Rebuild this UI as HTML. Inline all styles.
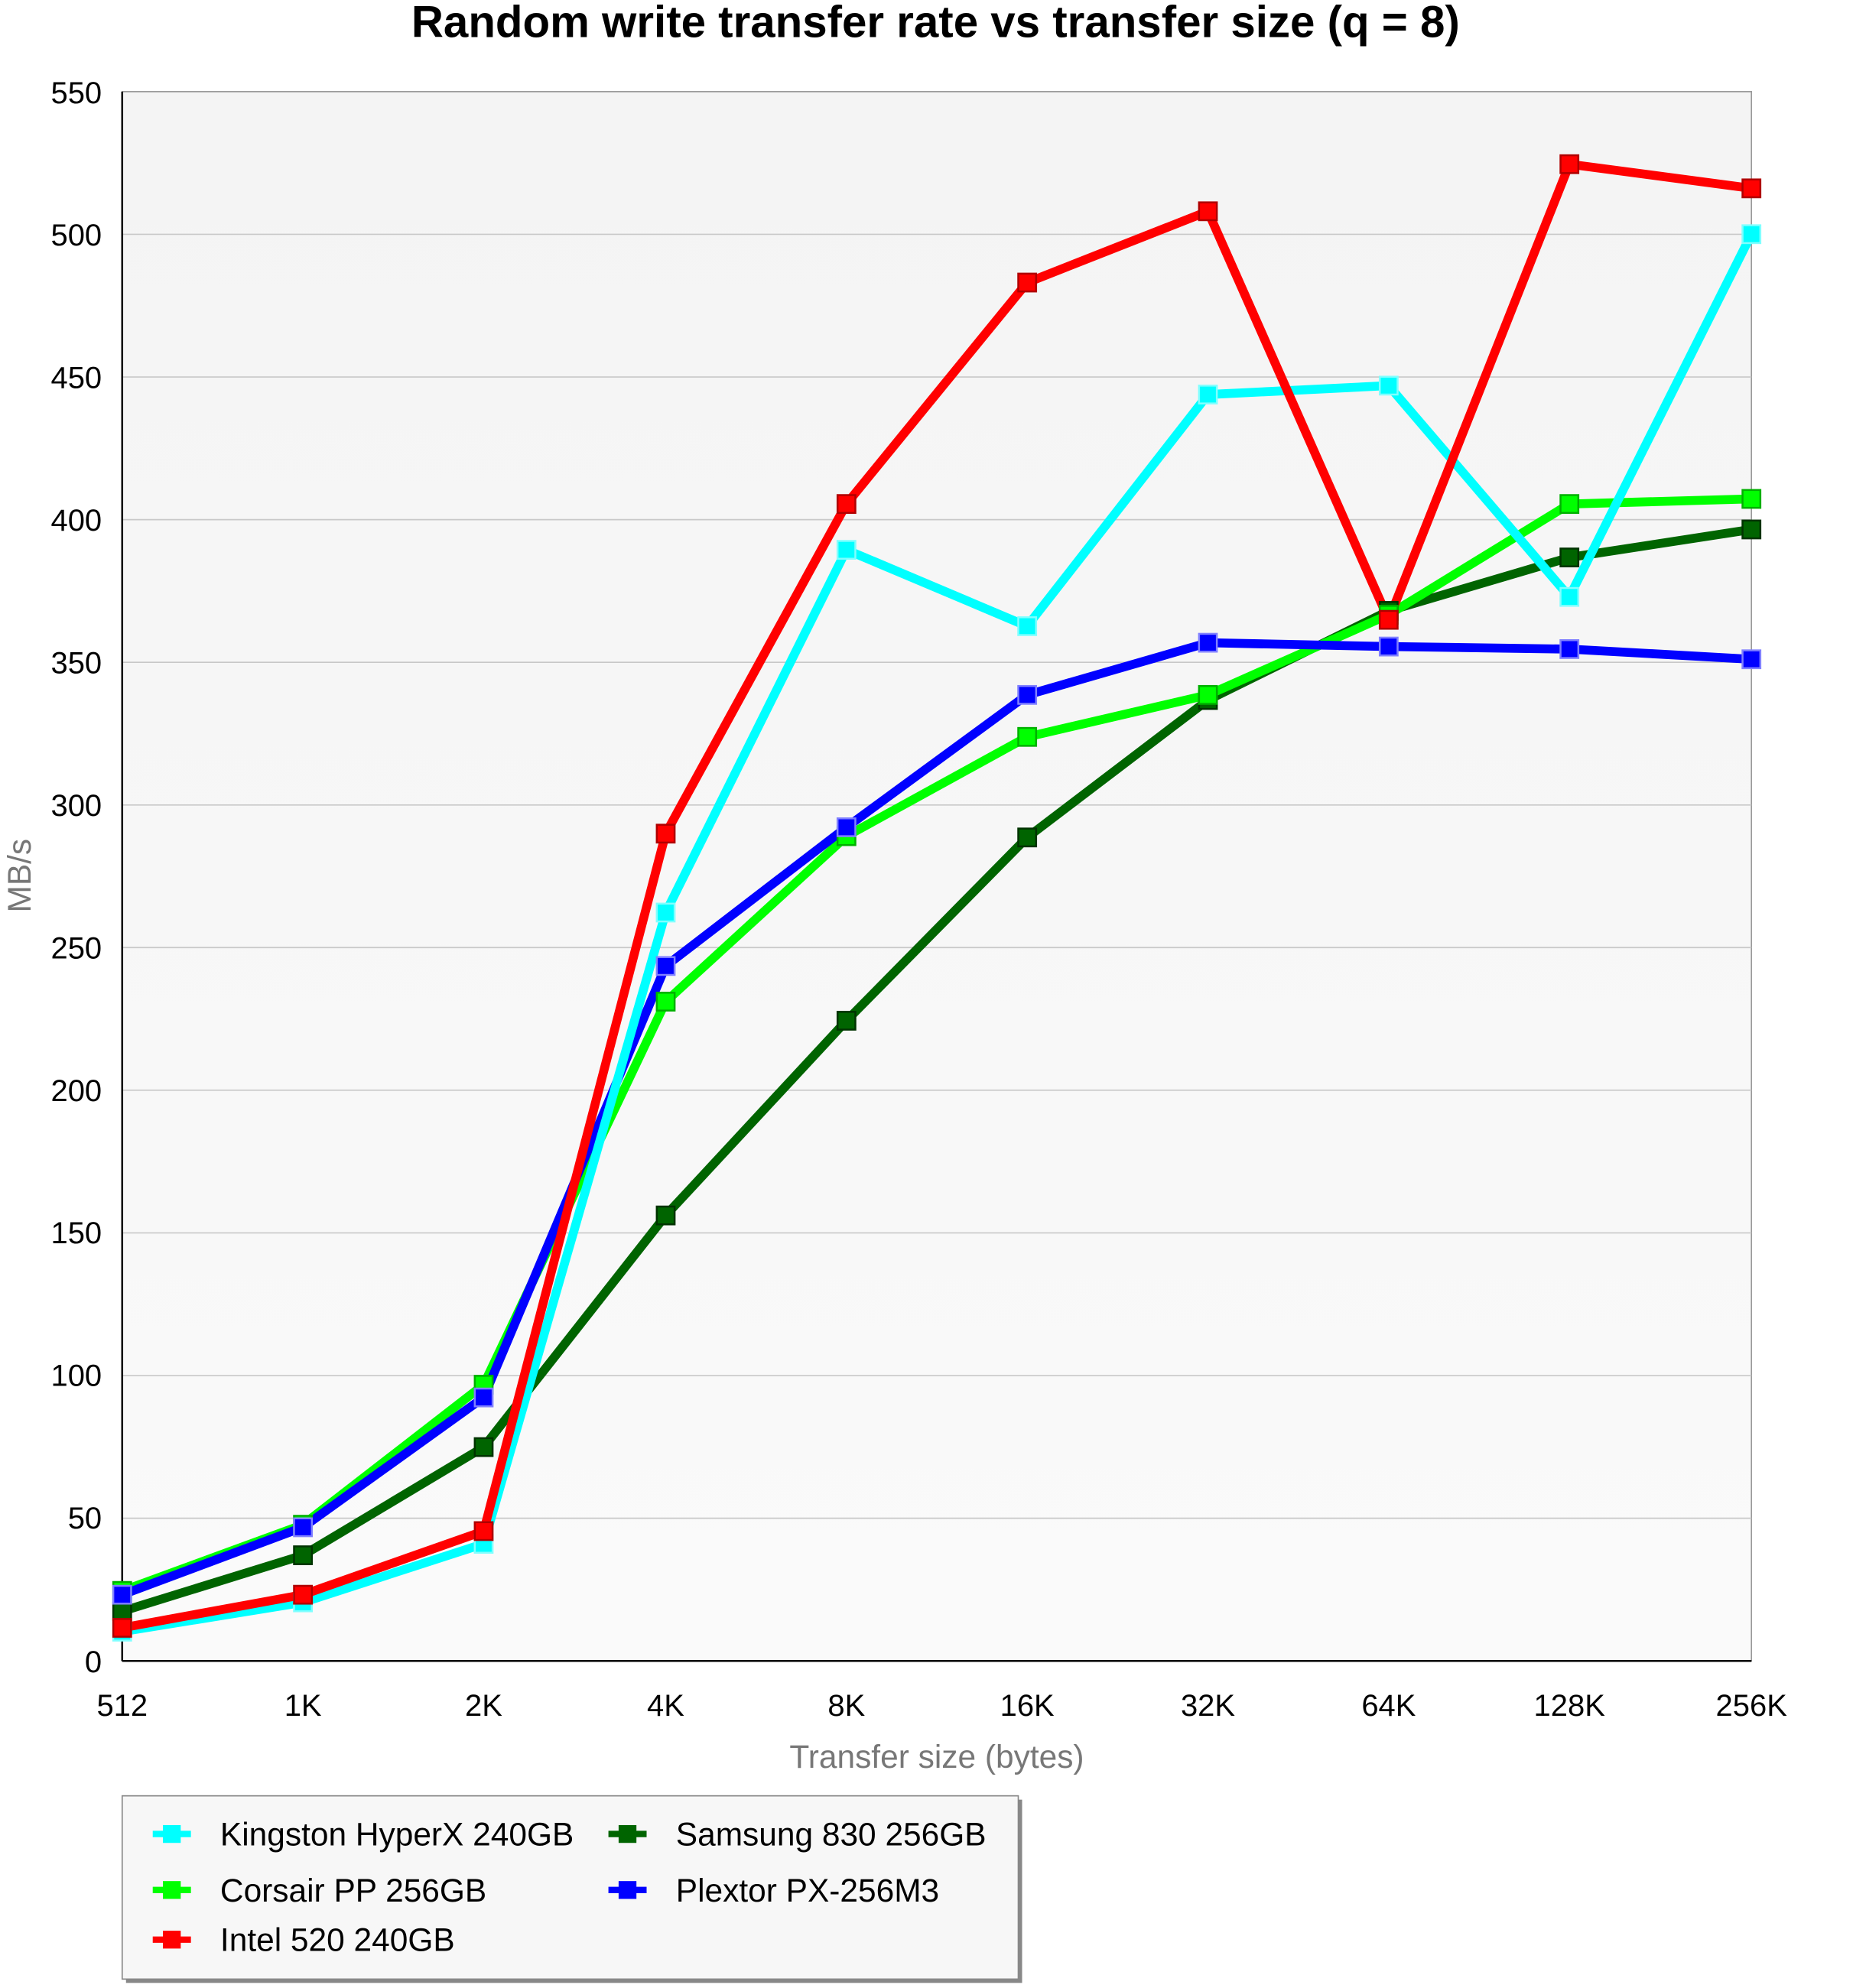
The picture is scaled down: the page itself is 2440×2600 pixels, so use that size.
<!DOCTYPE html>
<html><head><meta charset="utf-8"><style>html,body{margin:0;padding:0;background:#fff}svg{display:block}</style></head>
<body>
<svg width="2440" height="2600" viewBox="0 0 1466 1562" preserveAspectRatio="none" xmlns="http://www.w3.org/2000/svg" font-family="'Liberation Sans', sans-serif">
<defs>
<linearGradient id="bg" x1="0" y1="0" x2="0" y2="1"><stop offset="0" stop-color="#f4f4f4"/><stop offset="1" stop-color="#fafafa"/></linearGradient>
</defs>
<rect width="1466" height="1562" fill="#fff"/>
<text x="735" y="29" text-anchor="middle" font-size="35" font-weight="bold" fill="#000">Random write transfer rate vs transfer size (q = 8)</text>
<rect x="96" y="72" width="1280" height="1233" fill="url(#bg)" stroke="#999" stroke-width="1"/>
<g stroke="#c8c8c8" stroke-width="1">
<line x1="96" x2="1376" y1="184.1" y2="184.1"/><line x1="96" x2="1376" y1="296.2" y2="296.2"/><line x1="96" x2="1376" y1="408.3" y2="408.3"/><line x1="96" x2="1376" y1="520.4" y2="520.4"/><line x1="96" x2="1376" y1="632.5" y2="632.5"/><line x1="96" x2="1376" y1="744.5" y2="744.5"/><line x1="96" x2="1376" y1="856.6" y2="856.6"/><line x1="96" x2="1376" y1="968.7" y2="968.7"/><line x1="96" x2="1376" y1="1080.8" y2="1080.8"/><line x1="96" x2="1376" y1="1192.9" y2="1192.9"/>
</g>
<line x1="96" y1="72" x2="96" y2="1305" stroke="#000" stroke-width="1.5"/>
<line x1="96" y1="1305" x2="1376" y2="1305" stroke="#000" stroke-width="1.5"/>
<g font-size="24" fill="#000" text-anchor="end">
<text x="80" y="81">550</text><text x="80" y="193">500</text><text x="80" y="305">450</text><text x="80" y="417">400</text><text x="80" y="529">350</text><text x="80" y="641">300</text><text x="80" y="753">250</text><text x="80" y="865">200</text><text x="80" y="977">150</text><text x="80" y="1089">100</text><text x="80" y="1201">50</text><text x="80" y="1314">0</text>
</g>
<g font-size="24" fill="#000" text-anchor="middle">
<text x="96" y="1348">512</text><text x="238" y="1348">1K</text><text x="380" y="1348">2K</text><text x="523" y="1348">4K</text><text x="665" y="1348">8K</text><text x="807" y="1348">16K</text><text x="949" y="1348">32K</text><text x="1091" y="1348">64K</text><text x="1233" y="1348">128K</text><text x="1376" y="1348">256K</text>
</g>
<text x="736" y="1389" text-anchor="middle" font-size="25.5" fill="#777">Transfer size (bytes)</text>
<text transform="translate(24,688) rotate(-90)" text-anchor="middle" font-size="25.5" fill="#777">MB/s</text>
<g fill="none" stroke-width="7" stroke-linejoin="round">
<polyline stroke="#006400" points="96,1266 238,1222 380,1137 523,955 665,802 807,658 949,550 1091,480 1233,438 1376,416"/>
<polyline stroke="#00ff00" points="96,1250 238,1198 380,1088 523,787 665,657 807,579 949,546 1091,483 1233,396 1376,392"/>
<polyline stroke="#0000ff" points="96,1253 238,1200 380,1098 523,759 665,650 807,546 949,505 1091,508 1233,510 1376,518"/>
<polyline stroke="#00ffff" points="96,1282 238,1259 380,1213 523,717 665,432 807,492 949,310 1091,303 1233,469 1376,184"/>
<polyline stroke="#ff0000" points="96,1279 238,1253 380,1203 523,655 665,396 807,222 949,166 1091,487 1233,129 1376,148"/>
</g>
<g stroke-width="1.5">
<g fill="#006400" stroke="#003300"><rect x="89" y="1259" width="14" height="14"/><rect x="231" y="1215" width="14" height="14"/><rect x="373" y="1130" width="14" height="14"/><rect x="516" y="948" width="14" height="14"/><rect x="658" y="795" width="14" height="14"/><rect x="800" y="651" width="14" height="14"/><rect x="942" y="543" width="14" height="14"/><rect x="1084" y="473" width="14" height="14"/><rect x="1226" y="431" width="14" height="14"/><rect x="1369" y="409" width="14" height="14"/></g>
<g fill="#00ff00" stroke="#00b000"><rect x="89" y="1243" width="14" height="14"/><rect x="231" y="1191" width="14" height="14"/><rect x="373" y="1081" width="14" height="14"/><rect x="516" y="780" width="14" height="14"/><rect x="658" y="650" width="14" height="14"/><rect x="800" y="572" width="14" height="14"/><rect x="942" y="539" width="14" height="14"/><rect x="1084" y="476" width="14" height="14"/><rect x="1226" y="389" width="14" height="14"/><rect x="1369" y="385" width="14" height="14"/></g>
<g fill="#0000ff" stroke="#8080ff"><rect x="89" y="1246" width="14" height="14"/><rect x="231" y="1193" width="14" height="14"/><rect x="373" y="1091" width="14" height="14"/><rect x="516" y="752" width="14" height="14"/><rect x="658" y="643" width="14" height="14"/><rect x="800" y="539" width="14" height="14"/><rect x="942" y="498" width="14" height="14"/><rect x="1084" y="501" width="14" height="14"/><rect x="1226" y="503" width="14" height="14"/><rect x="1369" y="511" width="14" height="14"/></g>
<g fill="#00ffff" stroke="#80ffff"><rect x="89" y="1275" width="14" height="14"/><rect x="231" y="1252" width="14" height="14"/><rect x="373" y="1206" width="14" height="14"/><rect x="516" y="710" width="14" height="14"/><rect x="658" y="425" width="14" height="14"/><rect x="800" y="485" width="14" height="14"/><rect x="942" y="303" width="14" height="14"/><rect x="1084" y="296" width="14" height="14"/><rect x="1226" y="462" width="14" height="14"/><rect x="1369" y="177" width="14" height="14"/></g>
<g fill="#ff0000" stroke="#b00000"><rect x="89" y="1272" width="14" height="14"/><rect x="231" y="1246" width="14" height="14"/><rect x="373" y="1196" width="14" height="14"/><rect x="516" y="648" width="14" height="14"/><rect x="658" y="389" width="14" height="14"/><rect x="800" y="215" width="14" height="14"/><rect x="942" y="159" width="14" height="14"/><rect x="1084" y="480" width="14" height="14"/><rect x="1226" y="122" width="14" height="14"/><rect x="1369" y="141" width="14" height="14"/></g>
</g>
<rect x="99" y="1414" width="704" height="144" fill="#888"/>
<rect x="96" y="1411" width="704" height="144" fill="#f7f7f7" stroke="#888" stroke-width="1"/>
<g stroke-width="5">
<line x1="120" y1="1441" x2="150" y2="1441" stroke="#00ffff"/><rect x="128" y="1434" width="14" height="14" fill="#00ffff" stroke="none"/>
<line x1="120" y1="1485" x2="150" y2="1485" stroke="#00ff00"/><rect x="128" y="1478" width="14" height="14" fill="#00ff00" stroke="none"/>
<line x1="120" y1="1524" x2="150" y2="1524" stroke="#ff0000"/><rect x="128" y="1517" width="14" height="14" fill="#ff0000" stroke="none"/>
<line x1="478" y1="1441" x2="508" y2="1441" stroke="#006400"/><rect x="486" y="1434" width="14" height="14" fill="#006400" stroke="none"/>
<line x1="478" y1="1485" x2="508" y2="1485" stroke="#0000ff"/><rect x="486" y="1478" width="14" height="14" fill="#0000ff" stroke="none"/>
</g>
<g font-size="25.5" fill="#000">
<text x="173" y="1450">Kingston HyperX 240GB</text>
<text x="173" y="1494">Corsair PP 256GB</text>
<text x="173" y="1533">Intel 520 240GB</text>
<text x="531" y="1450">Samsung 830 256GB</text>
<text x="531" y="1494">Plextor PX-256M3</text>
</g>
</svg>
</body></html>
